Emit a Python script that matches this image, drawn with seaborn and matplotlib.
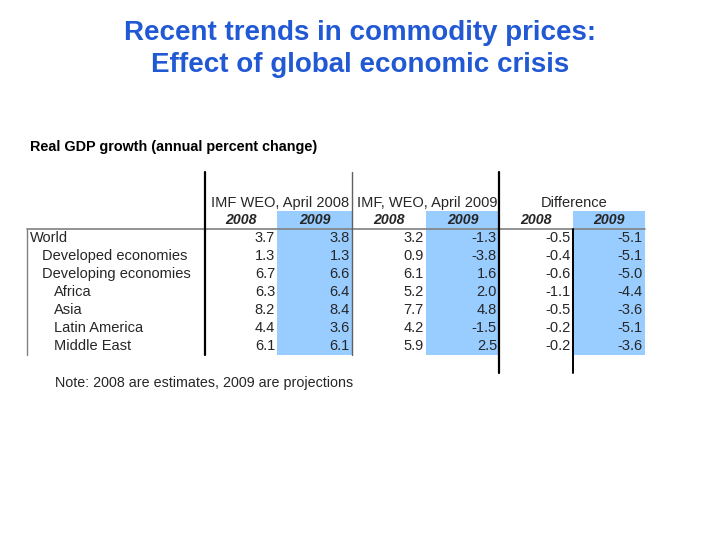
import matplotlib
matplotlib.use('Agg')
import matplotlib.pyplot as plt
import seaborn as sns

# table data
regions = ['World', 'Developed economies', 'Developing economies',
           'Africa', 'Asia', 'Latin America', 'Middle East']
indent = [0, 1, 1, 2, 2, 2, 2]
weo08_2008 = [3.7, 1.3, 6.7, 6.3, 8.2, 4.4, 6.1]
weo08_2009 = [3.8, 1.3, 6.6, 6.4, 8.4, 3.6, 6.1]
weo09_2008 = [3.2, 0.9, 6.1, 5.2, 7.7, 4.2, 5.9]
weo09_2009 = [-1.3, -3.8, 1.6, 2.0, 4.8, -1.5, 2.5]
diff_2008 = [-0.5, -0.4, -0.6, -1.1, -0.5, -0.2, -0.2]
diff_2009 = [-5.1, -5.1, -5.0, -4.4, -3.6, -5.1, -3.6]
groups = ['IMF WEO, April 2008', 'IMF, WEO, April 2009', 'Difference']
years = ['2008', '2009']

sns.set_style('white')
plt.rcParams['font.family'] = ['Liberation Sans', 'DejaVu Sans']

fig = plt.figure(figsize=(7.2, 5.4), dpi=100)
ax = fig.add_axes([0, 0, 1, 1])
ax.set_xlim(0, 720)
ax.set_ylim(540, 0)
ax.axis('off')

title_col = '#2158d4'
ax.text(360, 33, 'Recent trends in commodity prices:', ha='center', va='center',
        fontsize=20, fontweight='bold', color=title_col)
ax.text(360, 65, 'Effect of global economic crisis', ha='center', va='center',
        fontsize=20, fontweight='bold', color=title_col)

ax.text(30, 147, 'Real GDP growth (annual percent change)', ha='left', va='center',
        fontsize=10.4, fontweight='bold', color='black')

# column layout (left edge, right edge)
cols = [(205, 277), (277, 352), (352, 426), (426, 499), (499, 573), (573, 645)]
series = [weo08_2008, weo08_2009, weo09_2008, weo09_2009, diff_2008, diff_2009]
blue = '#99ccff'
row_top = 229
row_h = 18
n = len(regions)
tbl_bottom = row_top + n * row_h
fs = 10.5

# blue shading on the 2009 columns
for i in (1, 3, 5):
    l, r = cols[i]
    ax.fill_between([l, r], 211, tbl_bottom, color=blue, lw=0, zorder=0)

# group headers and year headers
for g, name in enumerate(groups):
    l = cols[2 * g][0]
    r = cols[2 * g + 1][1]
    ax.text((l + r) / 2 + 2, 203, name, ha='center', va='center', fontsize=fs)
    for k, yr in enumerate(years):
        cl, cr = cols[2 * g + k]
        ax.text((cl + cr) / 2, 220, yr, ha='center', va='center', fontsize=10.2,
                fontweight='bold', fontstyle='italic')

# rows
for i, name in enumerate(regions):
    y = row_top + row_h * i + row_h / 2
    ax.text(30 + 12 * indent[i], y, name, ha='left', va='center', fontsize=fs)
    for j, vals in enumerate(series):
        ax.text(cols[j][1] - 2, y, f'{vals[i]:.1f}', ha='right', va='center', fontsize=fs)

# rules
ax.plot([27, 645], [row_top, row_top], color='#808080', lw=1.2)
ax.plot([27, 27], [row_top, tbl_bottom], color='#808080', lw=1.0)
ax.plot([205, 205], [172, tbl_bottom], color='black', lw=1.6)
ax.plot([352, 352], [172, tbl_bottom], color='#606060', lw=1.0)
ax.plot([499, 499], [172, 373], color='black', lw=1.6)
ax.plot([573, 573], [row_top, 373], color='black', lw=1.4)

ax.text(55, 383, 'Note: 2008 are estimates, 2009 are projections', ha='left', va='center',
        fontsize=10.3)

fig.savefig('out.png', dpi=100)
